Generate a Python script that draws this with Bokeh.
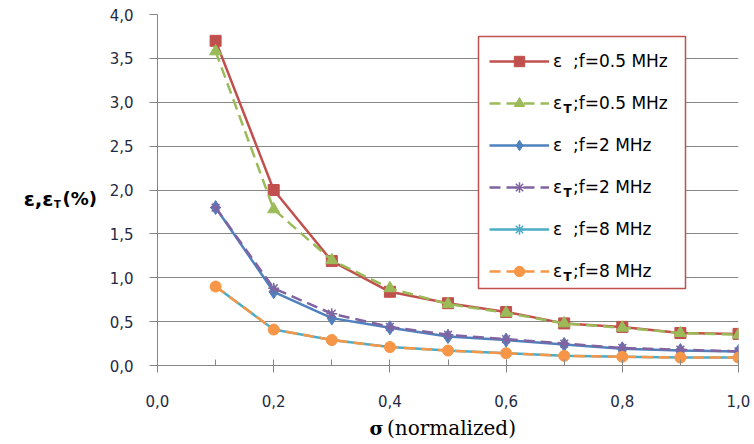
from bokeh.plotting import figure
from bokeh.models import (Range1d, FixedTicker, CustomJSTickFormatter, Legend,
                          LegendItem, Label, BoxAnnotation)
from bokeh.embed import file_html
from bokeh.resources import INLINE

# ---- data ----
sigma = [0.1, 0.2, 0.3, 0.4, 0.5, 0.6, 0.7, 0.8, 0.9, 1.0]
eps_05 = [3.70, 2.00, 1.19, 0.84, 0.71, 0.61, 0.48, 0.44, 0.37, 0.36]
epsT_05 = [3.58, 1.78, 1.20, 0.88, 0.70, 0.60, 0.48, 0.43, 0.37, 0.35]
eps_2 = [1.80, 0.84, 0.54, 0.43, 0.33, 0.29, 0.24, 0.19, 0.17, 0.16]
epsT_2 = [1.80, 0.88, 0.59, 0.44, 0.35, 0.30, 0.25, 0.20, 0.18, 0.16]
eps_8 = [0.90, 0.41, 0.29, 0.21, 0.17, 0.14, 0.11, 0.10, 0.09, 0.09]
epsT_8 = [0.90, 0.41, 0.29, 0.21, 0.17, 0.14, 0.11, 0.10, 0.09, 0.09]

legend_labels = ["ε  ;f=0.5 MHz", "ε  ;f=0.5 MHz", "ε  ;f=2 MHz",
                 "ε  ;f=2 MHz", "ε  ;f=8 MHz", "ε  ;f=8 MHz"]
subscript_rows = [1, 3, 5]

x_ticks = [0.0, 0.2, 0.4, 0.6, 0.8, 1.0]
x_minor = [0.1, 0.3, 0.5, 0.7, 0.9]
y_ticks = [0.0, 0.5, 1.0, 1.5, 2.0, 2.5, 3.0, 3.5, 4.0]

series = [
    (eps_05, "#C0504D", "solid", "square", 11),
    (epsT_05, "#9BBB59", "11 6", "triangle", 12),
    (eps_2, "#4F81BD", "solid", "diamond", 14),
    (epsT_2, "#8064A2", "11 6", "asterisk", 11),
    (eps_8, "#4BACC6", "solid", "asterisk", 11),
    (epsT_8, "#F79646", "11 6", "circle", 11),
]

GRAY = "#868686"
TICK_COLOR = "#1F2A44"
FONT = "DejaVu Sans"
FW, FH = 581, 351
X0, X1, Y0, Y1 = 0.0, 1.0, 0.0, 4.0


def dx(px):  # frame pixel offset -> data x
    return X0 + px / FW * (X1 - X0)


def dy(px):  # frame pixel offset (from bottom) -> data y
    return Y0 + px / FH * (Y1 - Y0)


p = figure(frame_width=FW, frame_height=FH,
           min_border_left=157, min_border_right=16,
           min_border_top=14, min_border_bottom=79,
           x_range=Range1d(X0, X1), y_range=Range1d(Y0, Y1),
           output_backend="svg", toolbar_location=None)
p.background_fill_color = "white"
p.border_fill_color = "white"
p.outline_line_color = None

# axes
p.xaxis.ticker = FixedTicker(ticks=x_ticks, minor_ticks=x_minor)
p.yaxis.ticker = FixedTicker(ticks=y_ticks, minor_ticks=[])
p.xaxis.formatter = CustomJSTickFormatter(code="return tick.toFixed(1).replace('.', ',');")
p.yaxis.formatter = CustomJSTickFormatter(code="return tick.toFixed(1).replace('.', ',');")
for ax in (p.xaxis, p.yaxis):
    ax.axis_line_color = GRAY
    ax.axis_line_width = 1
    ax.major_tick_line_color = GRAY
    ax.minor_tick_line_color = GRAY
    ax.major_label_text_font = FONT
    ax.major_label_text_font_size = "15px"
    ax.major_label_text_color = TICK_COLOR
p.xaxis.major_tick_in = 6
p.xaxis.major_tick_out = 7
p.xaxis.minor_tick_in = 6
p.xaxis.minor_tick_out = 0
p.xaxis.major_label_standoff = 22
p.yaxis.major_tick_in = 0
p.yaxis.major_tick_out = 8
p.yaxis.minor_tick_in = 0
p.yaxis.minor_tick_out = 0
p.yaxis.major_label_standoff = 16

p.xgrid.grid_line_color = None
p.ygrid.grid_line_color = GRAY
p.ygrid.grid_line_width = 1

# legend frame (drawn before the legend items)
p.add_layout(BoxAnnotation(left=dx(321), right=dx(528), bottom=dy(77), top=dy(329),
                           fill_color="white", fill_alpha=1.0,
                           line_color="#C0504D", line_width=1.5, line_alpha=1.0))

items = []
for (vals, color, dash, marker, size), lab in zip(series, legend_labels):
    lr = p.line(sigma, vals, line_color=color, line_width=2.5, line_dash=dash)
    sr = p.scatter(sigma, vals, marker=marker, size=size, fill_color=color,
                   line_color=color, line_width=1.5 if marker == "asterisk" else 1)
    items.append(LegendItem(label=lab, renderers=[lr, sr]))

PAD, GH, SP, GW, STAND = 9, 26, 16, 60, 4
LX, LY = 332, 81
legend = Legend(items=items, location=(LX, LY), padding=PAD, spacing=SP,
                glyph_height=GH, glyph_width=GW, label_height=GH,
                label_standoff=STAND, margin=0,
                label_text_font=FONT, label_text_font_size="17px",
                label_text_color="black",
                border_line_color=None, background_fill_alpha=0.0)
p.add_layout(legend, "center")

# subscript T in legend labels
first_row = LY + 224
for i in subscript_rows:
    cy = first_row - i * (GH + SP)
    p.add_layout(Label(x=dx(410), y=dy(cy - 6.5),
                       text="T", text_font=FONT, text_font_size="12px",
                       text_font_style="bold", text_color="black",
                       text_align="center", text_baseline="middle"))

# y axis label: ε,εT (%)  (placed in the left side panel)
p.add_layout(Label(x=dx(-104), y=dy(167),
                   text="ε,ε", text_font=FONT, text_font_size="20px",
                   text_font_style="bold", text_color="black",
                   text_align="right", text_baseline="middle"), "left")
p.add_layout(Label(x=dx(-100), y=dy(161),
                   text="T", text_font=FONT, text_font_size="10px",
                   text_font_style="bold", text_color="black",
                   text_align="center", text_baseline="middle"), "left")
p.add_layout(Label(x=dx(-95), y=dy(167),
                   text="(%)", text_font=FONT, text_font_size="18px",
                   text_font_style="bold", text_color="black",
                   text_align="left", text_baseline="middle"), "left")

# x axis label: σ (normalized)  (placed in the bottom side panel)
p.add_layout(Label(x=dx(294), y=dy(-62),
                   text="(normalized)", text_font="DejaVu Serif", text_font_size="20px",
                   text_color="black", text_align="center", text_baseline="middle"), "below")
p.add_layout(Label(x=dx(226), y=dy(-62),
                   text="σ", text_font="DejaVu Serif", text_font_size="19px",
                   text_font_style="bold", text_color="black",
                   text_align="right", text_baseline="middle"), "below")

open("out.html", "w").write(file_html(p, INLINE))
